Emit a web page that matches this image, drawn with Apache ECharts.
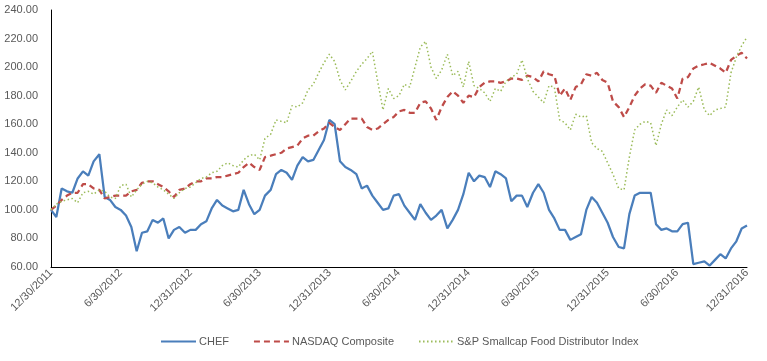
<!DOCTYPE html>
<html><head><meta charset="utf-8">
<script src="https://cdn.jsdelivr.net/npm/echarts@6/dist/echarts.min.js"></script>
<style>html,body{margin:0;padding:0;background:#fff}#c{width:767px;height:361px}</style>
</head><body><div id="c"></div>
<script>
// ---- data (biweekly samples) ----
const startDate = [2011, 12, 30];
const endDate = [2016, 12, 31];
const tickLabels = ['12/30/2011','6/30/2012','12/31/2012','6/30/2013','12/31/2013','6/30/2014','12/31/2014','6/30/2015','12/31/2015','6/30/2016','12/31/2016'];
const yTicks = [60, 80, 100, 120, 140, 160, 180, 200, 220, 240];
const seriesNames = ['CHEF', 'NASDAQ Composite', 'S&P Smallcap Food Distributor Index'];

const chef = [100,95,115,113,112,122,127,124,134,139,
  109,107,102,100,96,88,71,84,85,93,
  91,94,80,86,88,84,86,86,90,92,
  101,107,103,101,99,100,114,104,97,100,
  110,114,125,128,126,121,131,137,134,135,
  142,149,163,160,134,130,128,125,115,117,
  110,105,100,101,110,111,103,98,93,104,
  98,93,96,100,87,93,100,111,126,120,
  124,123,116,127,125,122,106,110,110,102,
  112,118,112,100,94,86,86,79,81,83,
  100,109,105,98,91,81,74,73,97,110,
  112,112,112,90,86,87,85,85,90,91,
  62,63,64,61,65,69,66,73,78,87,89];

const nasdaq = [100,103,107,110,112,112,118,118,115,114,
  108,109,110,110,110,113,114,119,120,120,
  118,116,113,109,114,115,118,120,120,122,
  122,123,123,124,125,126,130,133,130,128,
  137,138,139,140,143,144,145,150,152,152,
  155,157,161,158,156,160,164,164,164,158,
  156,157,160,163,165,169,170,168,168,175,
  176,171,163,172,179,183,180,175,180,179,
  186,189,190,190,189,190,192,192,191,194,
  193,190,197,195,194,180,185,177,186,188,
  195,194,196,191,189,176,172,165,172,180,
  185,188,187,182,189,187,185,178,192,193,
  199,201,202,203,201,199,196,205,208,210,206];

const spFood = [100,104,106,107,108,105,112,113,111,114,
  113,109,108,117,118,109,114,118,120,119,
  116,114,111,108,112,115,116,119,122,123,
  126,127,131,133,131,130,135,138,139,135,
  150,153,163,162,161,173,172,175,184,188,
  196,203,209,204,191,184,190,197,202,206,
  211,190,170,185,178,180,188,186,200,214,
  218,200,192,198,209,194,197,186,204,187,
  185,182,176,185,183,190,193,195,205,192,
  183,179,175,187,186,163,161,156,167,165,
  166,147,143,141,133,125,115,114,137,156,
  160,162,161,145,160,170,166,172,177,172,
  176,186,170,166,170,171,172,196,207,215,221];

// ---- build (x = days since start date) ----
const DAY = 86400000;
function utc(y, m, d) { return Date.UTC(y, m - 1, d); }
const t0 = utc(startDate[0], startDate[1], startDate[2]);
const totalDays = Math.round((utc(endDate[0], endDate[1], endDate[2]) - t0) / DAY);
function pairs(arr) { return arr.map((v, i) => [Math.round(i * totalDays / (arr.length - 1)), v]); }
const tickDays = tickLabels.map(s => { const p = s.split('/').map(Number); return Math.round((utc(p[2], p[0], p[1]) - t0) / DAY); });
function dayLabel(v) {
  const d = new Date(t0 + Math.round(v) * DAY);
  return (d.getUTCMonth() + 1) + '/' + d.getUTCDate() + '/' + d.getUTCFullYear();
}

const chart = echarts.init(document.getElementById('c'), null, { renderer: 'canvas' });
const labelFont = { color: '#595959', fontSize: 11, fontFamily: 'Liberation Sans, Arial, sans-serif' };
chart.setOption({
  animation: false,
  backgroundColor: '#ffffff',
  grid: { left: 51, right: 20, top: 10, bottom: 94, containLabel: false },
  legend: {
    bottom: 9, left: 155, itemWidth: 35, itemHeight: 10, itemGap: 24,
    itemStyle: { opacity: 0 },
    textStyle: Object.assign({ padding: [0, 0, 0, -2] }, labelFont),
    data: seriesNames
  },
  xAxis: {
    type: 'value', min: 0, max: totalDays,
    axisLine: { show: true, onZero: false, lineStyle: { color: '#000', width: 1 } },
    axisTick: { show: false },
    splitLine: { show: false },
    axisLabel: Object.assign({
      rotate: 45, margin: 4, showMinLabel: true, showMaxLabel: true,
      customValues: tickDays,
      formatter: dayLabel
    }, labelFont)
  },
  yAxis: {
    type: 'value', min: yTicks[0], max: yTicks[yTicks.length - 1], interval: 20,
    axisLine: { show: true, lineStyle: { color: '#000', width: 1 } },
    axisTick: { show: false },
    splitLine: { show: false },
    axisLabel: Object.assign({ margin: 13, formatter: v => v.toFixed(2) }, labelFont)
  },
  series: [
    { name: seriesNames[0], type: 'line', data: pairs(chef), showSymbol: false, symbol: 'none',
      lineStyle: { color: '#4A7EBB', width: 2.25 }, itemStyle: { color: '#4A7EBB' } },
    { name: seriesNames[1], type: 'line', data: pairs(nasdaq), showSymbol: false, symbol: 'none',
      lineStyle: { color: '#BE4B48', width: 2.25, type: [6, 4] }, itemStyle: { color: '#BE4B48' } },
    { name: seriesNames[2], type: 'line', data: pairs(spFood), showSymbol: false, symbol: 'none',
      lineStyle: { color: '#9BBB59', width: 1.5, type: [1.5, 2.5] }, itemStyle: { color: '#9BBB59' } }
  ]
});
</script>
</body></html>
